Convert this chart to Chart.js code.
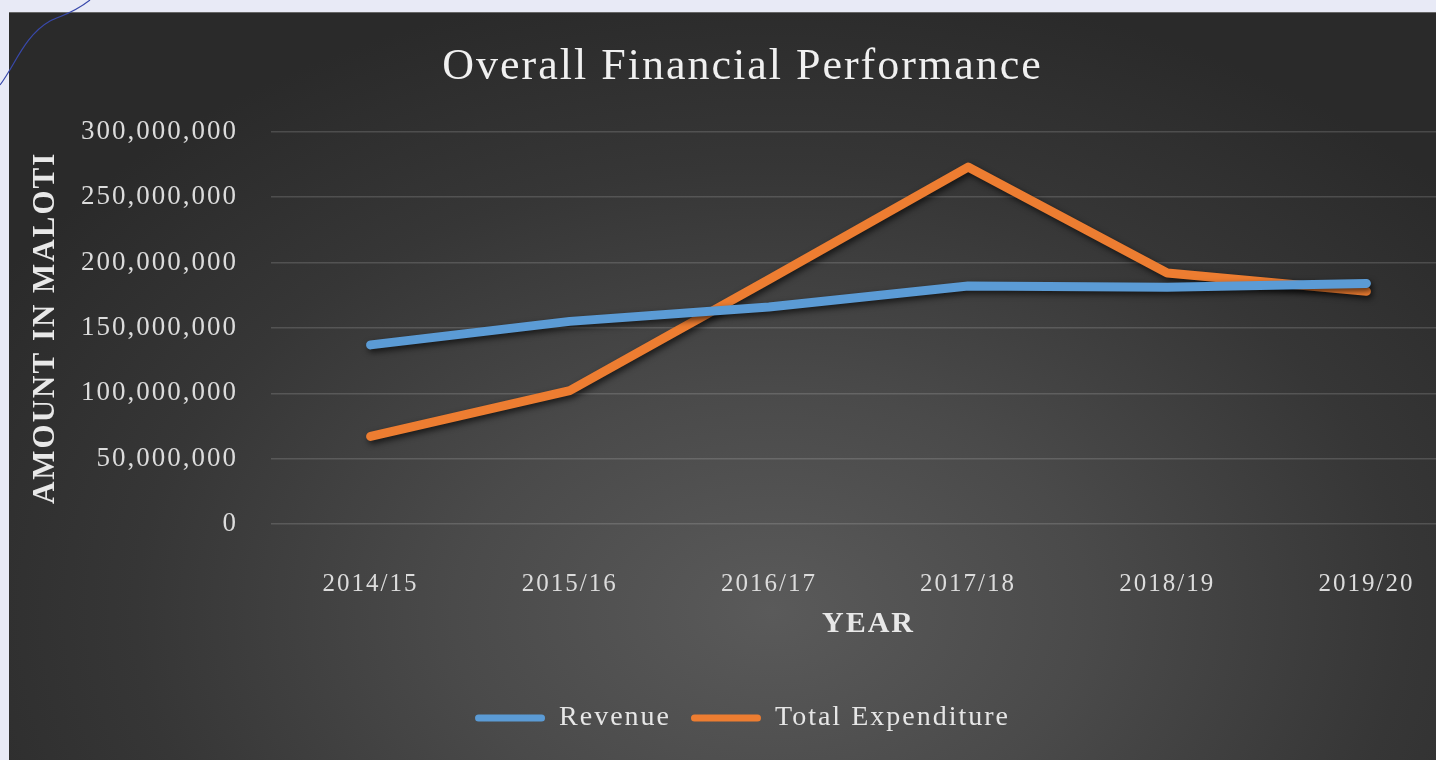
<!DOCTYPE html>
<html>
<head>
<meta charset="utf-8">
<title>Overall Financial Performance</title>
<script src="https://cdn.jsdelivr.net/npm/chart.js@4.4.1/dist/chart.umd.min.js"></script>
<style>
  html, body { margin: 0; padding: 0; width: 1436px; height: 760px; overflow: hidden; background: #e8eaf6; }
  #panel {
    position: absolute; left: 9px; top: 12px; width: 1466px; height: 748px;
    background: radial-gradient(ellipse 62% 85% at 52% 80%, #5a5a5a 0%, #4a4a4a 35%, #363636 70%, #2a2a2a 100%);
    border-top: 1px solid #666;
  }
  #deco { position: absolute; left: 0; top: 0; }
</style>
</head>
<body>
<div id="panel"><canvas id="financeChart"></canvas></div>
<svg id="deco" width="120" height="100"><path d="M0,85 C15,65 25,35 50,21 C62,15 72,14 90,0" fill="none" stroke="#3949ab" stroke-width="1.2"/></svg>
<script>
const years = ['2014/15', '2015/16', '2016/17', '2017/18', '2018/19', '2019/20'];
const revenue = [137000000, 155000000, 166000000, 182000000, 181000000, 184000000];
const totalExpenditure = [67000000, 102000000, 187000000, 273000000, 192000000, 178000000];
const seriesNames = ['Revenue', 'Total Expenditure'];
const seriesColors = ['#5b9bd5', '#ed7d31'];

const serif = "'Liberation Serif', 'DejaVu Serif', serif";
Chart.defaults.color = '#dcdcdc';
Chart.defaults.font.family = serif;

// canvas state gets reset on resize, so letter spacing is set again before layout and draw
const spacing = {
    id: 'spacing',
    beforeLayout(chart) { chart.ctx.letterSpacing = '2px'; },
    beforeDraw(chart) { chart.ctx.letterSpacing = '2px'; }
};

// soft drop shadow under each line
const lineShadow = {
    id: 'lineShadow',
    beforeDatasetDraw(chart) {
        const ctx = chart.ctx;
        ctx.save();
        ctx.shadowColor = 'rgba(0, 0, 0, 0.65)';
        ctx.shadowBlur = 6;
        ctx.shadowOffsetX = 2;
        ctx.shadowOffsetY = 3;
    },
    afterDatasetDraw(chart) {
        chart.ctx.restore();
    }
};

const ctx = document.getElementById('financeChart').getContext('2d');
const financeChart = new Chart(ctx, {
    type: 'line',
    data: {
        labels: years,
        datasets: [
            {
                label: seriesNames[0],
                data: revenue,
                borderColor: seriesColors[0],
                backgroundColor: seriesColors[0],
                borderWidth: 9,
                pointRadius: 0,
                tension: 0,
                borderCapStyle: 'round',
                borderJoinStyle: 'round'
            },
            {
                label: seriesNames[1],
                data: totalExpenditure,
                borderColor: seriesColors[1],
                backgroundColor: seriesColors[1],
                borderWidth: 9,
                pointRadius: 0,
                tension: 0,
                borderCapStyle: 'round',
                borderJoinStyle: 'round'
            }
        ]
    },
    options: {
        responsive: true,
        maintainAspectRatio: false,
        animation: false,
        layout: { padding: { left: 10, right: 9, top: 0, bottom: 19 } },
        plugins: {
            title: {
                display: true,
                text: 'Overall Financial Performance',
                color: '#f0f0f0',
                font: { size: 44, weight: 'normal' },
                padding: { top: 28, bottom: 38 }
            },
            legend: {
                position: 'bottom',
                labels: {
                    color: '#e6e6e6',
                    font: { size: 28 },
                    boxWidth: 70,
                    boxHeight: 7,
                    useBorderRadius: true,
                    borderRadius: 3.5,
                    padding: 20,
                    generateLabels(chart) {
                        return Chart.defaults.plugins.legend.labels.generateLabels(chart)
                            .map(item => ({ ...item, lineWidth: 0, strokeStyle: 'transparent' }));
                    }
                }
            },
            tooltip: { enabled: false }
        },
        scales: {
            x: {
                offset: true,
                grid: { display: false, offset: true },
                border: { display: false },
                ticks: { color: '#dcdcdc', font: { size: 25 }, padding: 37, maxRotation: 0 },
                title: {
                    display: true,
                    text: 'YEAR',
                    color: '#e8e8e8',
                    font: { size: 30, weight: 'bold' },
                    padding: { top: 0, bottom: 42 }
                },
                afterFit(scale) { scale.height = 160; }
            },
            y: {
                min: 0,
                max: 300000000,
                grid: { color: 'rgba(255, 255, 255, 0.15)', lineWidth: 1.5, drawTicks: false },
                border: { display: false },
                ticks: {
                    stepSize: 50000000,
                    color: '#dcdcdc',
                    font: { size: 27 },
                    padding: 33,
                    callback: v => v.toLocaleString('en-US')
                },
                title: {
                    display: true,
                    text: 'AMOUNT IN MALOTI',
                    color: '#e8e8e8',
                    font: { size: 31, weight: 'bold' },
                    padding: { top: 8, bottom: 0 }
                },
                afterFit(scale) { scale.width = 252; }
            }
        }
    },
    plugins: [spacing, lineShadow]
});
</script>
</body>
</html>
